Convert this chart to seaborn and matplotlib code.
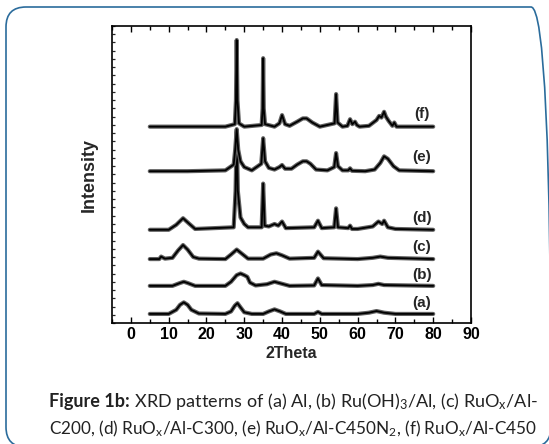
import matplotlib
matplotlib.use("Agg")
import matplotlib.pyplot as plt
import matplotlib.patheffects as pe
from matplotlib.patches import FancyBboxPatch
from matplotlib.transforms import Affine2D
from matplotlib.ticker import MultipleLocator, NullFormatter
import seaborn as sns
import pandas as pd

# ---------------- data ----------------
samples = ["(a)", "(b)", "(c)", "(d)", "(e)", "(f)"]

x_a = [5, 10, 12, 13, 14, 15, 16, 18, 25, 26.5, 27.5, 28.2, 29, 30, 32, 35, 36.5, 38, 39.5, 41,
       48.5, 49.5, 50.5, 60, 63, 65, 67, 70, 80]
y_a = [1.1, 1.1, 1.6, 2.2, 2.5, 2.2, 1.6, 1.15, 1.1, 1.4, 2.1, 2.4, 1.9, 1.3, 1.1, 1.1, 1.4, 1.65, 1.4, 1.1,
       1.1, 1.35, 1.1, 1.1, 1.25, 1.45, 1.25, 1.1, 1.1]

x_b = [5, 11, 13, 14, 15, 17, 25, 26.5, 28, 29, 30, 30.8, 31.5, 33, 36, 38, 40, 42,
       48.5, 49.5, 50.5, 60, 64, 65.5, 67, 80]
y_b = [4.5, 4.5, 4.85, 5.0, 4.85, 4.5, 4.5, 5.0, 5.8, 6.0, 5.8, 5.6, 4.9, 4.55, 4.7, 5.0, 4.75, 4.5,
       4.55, 5.4, 4.6, 4.5, 4.6, 4.75, 4.6, 4.5]

x_c = [5, 7.5, 8, 9, 11, 12.5, 13.8, 15, 16.5, 18, 25, 26.5, 28, 29.5, 31, 35, 37, 38.5, 40, 42,
       48.5, 49.5, 51, 60, 64, 66, 68, 80]
y_c = [7.75, 7.75, 8.05, 7.8, 7.9, 8.8, 9.45, 8.9, 8.0, 7.8, 7.75, 8.3, 8.9, 8.35, 7.8, 7.8, 8.3, 8.45, 8.2, 7.8,
       7.9, 8.65, 7.85, 7.75, 7.9, 8.05, 7.9, 7.75]

x_d = [5, 10, 12, 13.8, 15.5, 17, 27.2, 27.7, 28.0, 28.3, 29, 30, 31, 34.6, 35.0, 35.4, 36.5, 38, 39, 40, 41,
       48.5, 49.5, 50.5, 53.8, 54.3, 54.8, 57.5, 58, 58.5, 60, 64, 65.5, 66.5, 67, 68, 70, 80]
y_d = [11.3, 11.3, 11.9, 12.7, 12.0, 11.4, 11.6, 16.0, 23.2, 16.0, 12.8, 12.0, 11.6, 11.6, 16.9, 11.8, 11.7, 12.0, 11.8, 12.3, 11.5,
       11.6, 12.4, 11.5, 11.6, 13.9, 11.6, 11.5, 11.8, 11.4, 11.4, 11.7, 12.3, 12.0, 12.4, 11.6, 11.4, 11.3]

x_e = [5, 15, 25, 27.2, 27.6, 28.0, 28.4, 29, 30, 32, 34.5, 35.0, 35.5, 36.5, 38, 39.3, 40, 40.8, 42.5, 44,
       45.5, 46.5, 47.5, 49, 52, 53.8, 54.3, 54.8, 56, 57.5, 58, 58.5, 62, 64.5, 66, 67, 68, 69.5, 71, 80]
y_e = [18.4, 18.4, 18.5, 19.2, 21.0, 23.5, 21.0, 19.6, 18.9, 18.5, 19.3, 22.4, 19.6, 18.8, 18.6, 18.9, 19.15, 18.7, 18.7, 19.2,
       19.6, 19.6, 19.3, 18.6, 18.5, 18.9, 20.6, 19.0, 18.5, 18.5, 18.75, 18.45, 18.4, 18.6, 19.4, 20.2, 19.9, 19.0, 18.5, 18.4]

x_f = [5, 15, 25, 27.5, 27.8, 28.0, 28.2, 28.6, 30, 34.6, 34.85, 35.0, 35.15, 35.5, 38, 39.3, 40, 40.8, 42, 44,
       45.5, 46.5, 48, 50, 53.9, 54.3, 54.7, 56, 57.3, 58, 58.6, 59.3, 59.8, 60.5, 63, 65, 65.7, 66.3, 67, 67.5,
       68.2, 69.2, 69.7, 70.3, 72, 80]
y_f = [23.8, 23.8, 23.8, 24.1, 27.0, 34.3, 27.0, 24.2, 23.8, 24.0, 26.0, 32.1, 26.0, 24.1, 23.8, 24.2, 25.2, 24.1, 23.9, 24.4,
       24.8, 24.8, 24.3, 23.8, 24.2, 27.75, 24.3, 23.8, 23.9, 24.7, 24.1, 24.4, 24.0, 23.8, 23.9, 24.6, 25.1, 24.9, 25.6, 25.0,
       24.5, 23.9, 24.3, 23.8, 23.8, 23.8]

label_x = [77, 77, 77, 77, 77, 77]
label_y = [2.4, 5.8, 9.25, 12.7, 20.1, 25.3]

xtick_values = [0, 10, 20, 30, 40, 50, 60, 70, 80, 90]
xtick_labels = ["0", "10", "20", "30", "40", "50", "60", "70", "80", "90"]

x_label = "2Theta"
y_label = "Intensity"
cap_bold = "Figure 1b:"
cap_line1 = " XRD patterns of (a) Al, (b) Ru(OH)$_3$/Al, (c) RuO$_\\mathrm{x}$/Al-"
cap_line2 = "C200, (d) RuO$_\\mathrm{x}$/Al-C300, (e) RuO$_\\mathrm{x}$/Al-C450N$_2$, (f) RuO$_\\mathrm{x}$/Al-C450"

# ---------------- style ----------------
sns.set_style("ticks")
plt.rcParams['font.family'] = ['Liberation Sans', 'DejaVu Sans']
plt.rcParams['mathtext.fontset'] = 'custom'
plt.rcParams['mathtext.rm'] = 'Lato'
plt.rcParams['mathtext.it'] = 'Lato:italic'
plt.rcParams['mathtext.bf'] = 'Lato:bold'

W, H = 549, 444
fig = plt.figure(figsize=(W / 100, H / 100), dpi=100)
fig.patch.set_facecolor("white")
ax = fig.add_axes([112 / W, 1 - 323 / H, (471 - 112) / W, (323 - 26) / H])

xs_all = [x_a, x_b, x_c, x_d, x_e, x_f]
ys_all = [y_a, y_b, y_c, y_d, y_e, y_f]
frames = [pd.DataFrame({"two_theta": xs, "intensity": ys, "sample": s})
          for s, xs, ys in zip(samples, xs_all, ys_all)]
df = pd.concat(frames, ignore_index=True)

sns.lineplot(data=df, x="two_theta", y="intensity", hue="sample", units="sample",
             estimator=None, sort=False, palette=["black"] * 6, legend=False,
             linewidth=1.3, ax=ax)
for ln in ax.lines:
    ln.set_path_effects([pe.Stroke(linewidth=3.0, foreground="#606060"), pe.Normal()])

for s, lx, ly in zip(samples, label_x, label_y):
    ax.text(lx, ly, s, fontsize=11, fontweight="bold", ha="center", va="center")

ax.set_xlim(-5, 90)
ax.set_ylim(0, 36)
ax.set_xticks(xtick_values)
ax.set_xticklabels(xtick_labels, fontweight="bold", fontsize=11.5)
ax.xaxis.set_minor_locator(MultipleLocator(5))
ax.yaxis.set_major_locator(MultipleLocator(1))
ax.yaxis.set_major_formatter(NullFormatter())
ax.tick_params(axis="x", which="both", direction="in", top=True, bottom=True, width=1.0, pad=3, colors="black")
ax.tick_params(axis="x", which="major", length=4.5)
ax.tick_params(axis="x", which="minor", length=3)
ax.tick_params(axis="y", which="both", direction="in", left=True, right=False, length=2.2, width=0.9)
for sp in ax.spines.values():
    sp.set_visible(True)
    sp.set_linewidth(1.2)
    sp.set_color("black")
ax.set_xlabel(x_label, fontsize=11.5, fontweight="bold", labelpad=3)
ax.set_ylabel(y_label, fontsize=13, fontweight="bold", labelpad=7)

# rounded border box (pixel coordinates)
pix = Affine2D().scale(1 / W, 1 / H) + fig.transFigure
box = FancyBboxPatch((6, H - 447), 551 - 6, 447 - 7, boxstyle="round,pad=0,rounding_size=20",
                     transform=pix, fill=False, edgecolor="#2b6c9c", linewidth=1.2, zorder=0)
fig.add_artist(box)

# caption: both lines fitted to the same width (49 px -> 540 px)
fig.canvas.draw()
r = fig.canvas.get_renderer()
fs = 14.0
tb = fig.text(49 / W, 1 - 407 / H, cap_bold, family="Lato", fontweight="bold", fontsize=fs,
              va="baseline", ha="left", color="#222222")
t1 = fig.text(0, 1 - 407 / H, cap_line1, family="Lato", fontsize=fs, va="baseline", ha="left", color="#222222")
t2 = fig.text(49 / W, 1 - 434 / H, cap_line2, family="Lato", fontsize=fs, va="baseline", ha="left", color="#222222")
wb = tb.get_window_extent(r).width
w1 = t1.get_window_extent(r).width
w2 = t2.get_window_extent(r).width
target = 490.0
s1 = target / (wb + w1)
s2 = target / w2
for t in (tb, t1):
    t.set_fontsize(fs * s1)
t2.set_fontsize(fs * s2)
fig.canvas.draw()
wb = tb.get_window_extent(r).width
t1.set_x((49 + wb) / W)

fig.savefig("out.png", dpi=100)
